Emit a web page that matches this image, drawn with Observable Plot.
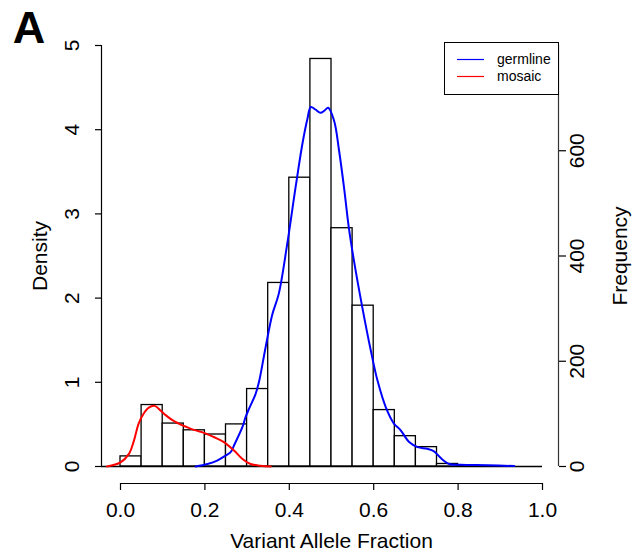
<!DOCTYPE html>
<html><head><meta charset="utf-8">
<script src="https://cdn.jsdelivr.net/npm/d3@7"></script>
<script src="https://cdn.jsdelivr.net/npm/@observablehq/plot@0.6"></script>
<style>
body{margin:0;background:#fff;}
#wrap{position:relative;width:632px;height:553px;}
#legend{position:absolute;left:444px;top:42px;width:115px;height:53px;}
</style></head><body><div id="wrap"></div>
<script>
// Histogram bins (left edges, width 0.05) and densities
const binStarts = [0.00,0.05,0.10,0.15,0.20,0.25,0.30,0.35,0.40,0.45,0.50,0.55,0.60,0.65,0.70,0.75,0.80];
const binDensity = [0.12,0.73,0.51,0.43,0.38,0.50,0.92,2.18,3.43,4.84,2.83,1.91,0.67,0.36,0.23,0.03,0.01];
const binWidth = 0.05;

// Germline density curve
const germX = [0.178,0.206,0.229,0.249,0.261,0.269,0.289,0.296,0.304,0.320,0.328,0.344,0.360,0.375,0.395,0.415,0.431,0.443,0.451,0.462,0.474,0.484,0.492,0.506,0.518,0.530,0.541,0.553,0.573,0.593,0.609,0.629,0.648,0.664,0.684,0.704,0.727,0.743,0.759,0.779,0.806,0.870,0.933];
const germD = [0.00,0.03,0.07,0.13,0.17,0.25,0.47,0.58,0.68,0.86,1.00,1.42,1.81,2.05,2.64,3.32,3.83,4.13,4.27,4.24,4.20,4.23,4.26,4.11,3.75,3.30,2.84,2.45,1.89,1.38,1.02,0.70,0.51,0.43,0.29,0.23,0.21,0.18,0.10,0.03,0.02,0.015,0.005];

// Mosaic density curve
const mosX = [-0.032,0.000,0.020,0.032,0.043,0.055,0.067,0.081,0.095,0.107,0.123,0.138,0.154,0.174,0.198,0.221,0.245,0.269,0.289,0.308,0.332,0.356];
const mosD = [0.00,0.05,0.15,0.31,0.51,0.63,0.70,0.72,0.665,0.61,0.55,0.51,0.475,0.435,0.40,0.35,0.29,0.19,0.09,0.03,0.01,0.00];

const xTicks = [0,0.2,0.4,0.6,0.8,1.0];
const densityTicks = [0,1,2,3,4,5];
const freqTicks = [0,200,400,600];
const freqPerDensity = 160;

const seriesNames = ["germline","mosaic"];
const seriesColors = ["#0000ff","#ff0000"];

const hist = binStarts.map((s,i)=>({x1:s,x2:s+binWidth,d:binDensity[i]}));
const germ = germX.map((x,i)=>({x,d:germD[i]}));
const mos = mosX.map((x,i)=>({x,d:mosD[i]}));

const font = "'Liberation Sans', Arial, Helvetica, sans-serif";
const chart = Plot.plot({
  width: 632, height: 553,
  marginLeft: 101, marginRight: 74, marginTop: 45, marginBottom: 70,
  style: {fontFamily: font, fontSize: "21px", background: "white", overflow: "visible", color: "black"},
  x: {domain: [0,1], range: [120,542], label: null},
  y: {domain: [0,5], range: [466,45], label: null},
  marks: [
    Plot.rectY(hist, {x1:"x1", x2:"x2", y:"d", fill:"white", stroke:"black", strokeWidth:1.3, inset:0}),
    Plot.ruleY([0], {x1:-0.045, x2:1.0, stroke:"black", strokeWidth:1.3}),
    Plot.line(germ, {x:"x", y:"d", stroke:seriesColors[0], strokeWidth:2, curve:"catmull-rom"}),
    Plot.line(mos, {x:"x", y:"d", stroke:seriesColors[1], strokeWidth:2, curve:"catmull-rom"}),
    // bottom axis
    Plot.ruleY([0], {x1:0, x2:1, dy:17, stroke:"black", strokeWidth:1.2}),
    Plot.axisX({ticks:xTicks, tickFormat:d3.format(".1f"), tickSize:7, tickPadding:12, fontSize:21, strokeWidth:1.2, label:null}),
    // left axis
    Plot.ruleX([0], {y1:0, y2:5, dx:-19, stroke:"black", strokeWidth:1.2}),
    Plot.axisY({anchor:"left", ticks:densityTicks, tickFormat:d3.format("d"), tickSize:6, tickPadding:17, tickRotate:-90, fontSize:21, strokeWidth:1.2, label:null}),
    // right axis
    Plot.ruleX([1], {y1:0, y2:5, dx:16, stroke:"#333", strokeWidth:1.2}),
    Plot.axisY({anchor:"right", ticks:freqTicks.map(f=>f/freqPerDensity), tickFormat:d=>String(Math.round(d*freqPerDensity)), tickSize:7, tickPadding:18, tickRotate:-90, fontSize:21, strokeWidth:1.2, label:null}),
    // titles
    Plot.text(["Density"], {y:2.5, frameAnchor:"left", dx:-61, rotate:-90, fontSize:21, textAnchor:"middle", lineAnchor:"middle"}),
    Plot.text(["Frequency"], {y:2.5, frameAnchor:"right", dx:62, rotate:-90, fontSize:21, textAnchor:"middle", lineAnchor:"middle"}),
    Plot.text(["Variant Allele Fraction"], {x:0.5, frameAnchor:"bottom", dy:58, fontSize:21, lineAnchor:"middle"}),
    Plot.text(["A"], {frameAnchor:"top-left", dx:-72.5, dy:-16.5, fontSize:45, fontWeight:"bold", textAnchor:"middle", lineAnchor:"middle"})
  ]
});
const wrap = document.getElementById("wrap");
wrap.appendChild(chart);

// legend (top-right box)
const NS = "http://www.w3.org/2000/svg";
const lg = document.createElementNS(NS, "svg");
lg.setAttribute("id", "legend");
lg.setAttribute("width", 115);
lg.setAttribute("height", 53);
const box = document.createElementNS(NS, "rect");
box.setAttribute("x", 0.5); box.setAttribute("y", 0.5);
box.setAttribute("width", 114); box.setAttribute("height", 52);
box.setAttribute("fill", "white"); box.setAttribute("stroke", "black"); box.setAttribute("stroke-width", 1);
lg.appendChild(box);
seriesNames.forEach((n,i)=>{
  const yy = 17.5 + i*17;
  const ln = document.createElementNS(NS, "line");
  ln.setAttribute("x1", 13); ln.setAttribute("x2", 40);
  ln.setAttribute("y1", yy); ln.setAttribute("y2", yy);
  ln.setAttribute("stroke", seriesColors[i]); ln.setAttribute("stroke-width", 1.2);
  lg.appendChild(ln);
  const t = document.createElementNS(NS, "text");
  t.setAttribute("x", 53); t.setAttribute("y", yy);
  t.setAttribute("dy", "0.35em");
  t.setAttribute("font-family", font);
  t.setAttribute("font-size", 14);
  t.textContent = n;
  lg.appendChild(t);
});
wrap.appendChild(lg);
</script></body></html>
